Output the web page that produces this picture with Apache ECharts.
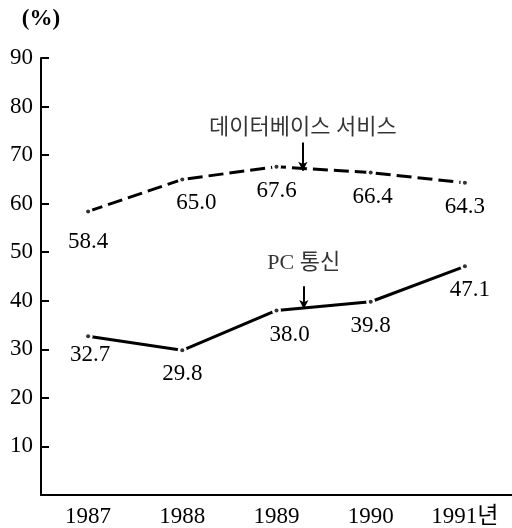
<!DOCTYPE html>
<html>
<head>
<meta charset="utf-8">
<script src="https://cdn.jsdelivr.net/npm/echarts@6/dist/echarts.min.js"></script>
<style>
  html, body { margin: 0; padding: 0; background: #fff; }
  #chart { width: 512px; height: 528px; }
</style>
</head>
<body>
<div id="chart"></div>
<script>
// chart data
const years = ['1987', '1988', '1989', '1990', '1991'];
const yearLabels = ['1987', '1988', '1989', '1990', '1991년'];
const dbService = [58.4, 65.0, 67.6, 66.4, 64.3];
const pcComm = [32.7, 29.8, 38.0, 39.8, 47.1];

// annotation texts and arrows (x = category index, y = value)
const noteTexts = [[2.28, 75.6, '데이터베이스 서비스'], [2.29, 47.8, 'PC 통신']];
const noteArrows = [[[2.28, 72.6], [2.28, 66.8]], [[2.29, 43.0], [2.29, 38.3]]];

// label nudges
const dbOffsets = [[0, 7], [14, 0], [0, 0], [2, 0], [0, 0]];
const pcOffsets = [[2, -5], [0, 0], [13, 0], [0, 0], [5, 0]];

const serif = '"Liberation Serif", "Noto Sans CJK KR", serif';

let chart = echarts.init(document.getElementById('chart'));

function withLabels(values, offsets) {
    return values.map((v, i) => ({ value: v, label: { offset: offsets[i] } }));
}

function lineSeries(name, values, offsets, lineType) {
    return {
        name: name,
        type: 'line',
        data: withLabels(values, offsets),
        symbol: 'circle',
        symbolSize: 9,
        itemStyle: { color: '#fff' },
        lineStyle: { color: '#000', width: 3, type: lineType },
        label: {
            show: true,
            position: 'bottom',
            distance: 8,
            color: '#000',
            fontFamily: serif,
            fontSize: 23,
            formatter: p => p.value.toFixed(1)
        },
        emphasis: { disabled: true },
        z: 2
    };
}

function dotSeries(values) {
    return {
        type: 'scatter',
        data: values,
        symbolSize: 4,
        itemStyle: { color: '#000' },
        silent: true,
        z: 3
    };
}

let option = {
    animation: false,
    backgroundColor: '#fff',
    grid: { left: 41, right: 0, top: 58, bottom: 33 },
    xAxis: [{
        type: 'category',
        data: years,
        axisLine: { lineStyle: { color: '#000', width: 2 } },
        axisTick: { inside: true, length: 6, alignWithLabel: true, lineStyle: { color: '#000', width: 2 } },
        axisLabel: {
            color: '#000', fontFamily: serif, fontSize: 23, margin: 10,
            formatter: (v, i) => yearLabels[i]
        },
        splitLine: { show: false }
    }, {
        type: 'value',
        min: -0.5,
        max: 4.5,
        show: false
    }],
    yAxis: {
        type: 'value',
        min: 0,
        max: 90,
        interval: 10,
        name: '(%)',
        nameLocation: 'end',
        nameGap: 27,
        nameTextStyle: { color: '#000', fontFamily: serif, fontSize: 23, fontWeight: 'bold', align: 'center' },
        axisLine: { show: true, onZero: false, lineStyle: { color: '#000', width: 2 } },
        axisTick: { show: true, inside: true, length: 8, lineStyle: { color: '#000', width: 2 } },
        axisLabel: {
            color: '#000', fontFamily: serif, fontSize: 23, margin: 8,
            formatter: v => (v === 0 ? '' : String(v))
        },
        splitLine: { show: false }
    },
    series: [
        lineSeries('데이터베이스 서비스', dbService, dbOffsets, [15, 6]),
        lineSeries('PC 통신', pcComm, pcOffsets, 'solid'),
        dotSeries(dbService),
        dotSeries(pcComm),
        {
            type: 'scatter',
            xAxisIndex: 1,
            data: noteTexts,
            symbolSize: 0,
            label: {
                show: true,
                position: 'inside',
                color: '#000',
                fontFamily: serif,
                fontSize: 22,
                formatter: p => p.value[2]
            },
            markLine: {
                silent: true,
                symbol: ['none', 'arrow'],
                symbolSize: [7, 9],
                label: { show: false },
                lineStyle: { color: '#000', width: 2, type: 'solid' },
                data: noteArrows.map(a => [{ coord: a[0] }, { coord: a[1] }])
            },
            silent: true,
            z: 4
        }
    ]
};

chart.setOption(option);
</script>
</body>
</html>
